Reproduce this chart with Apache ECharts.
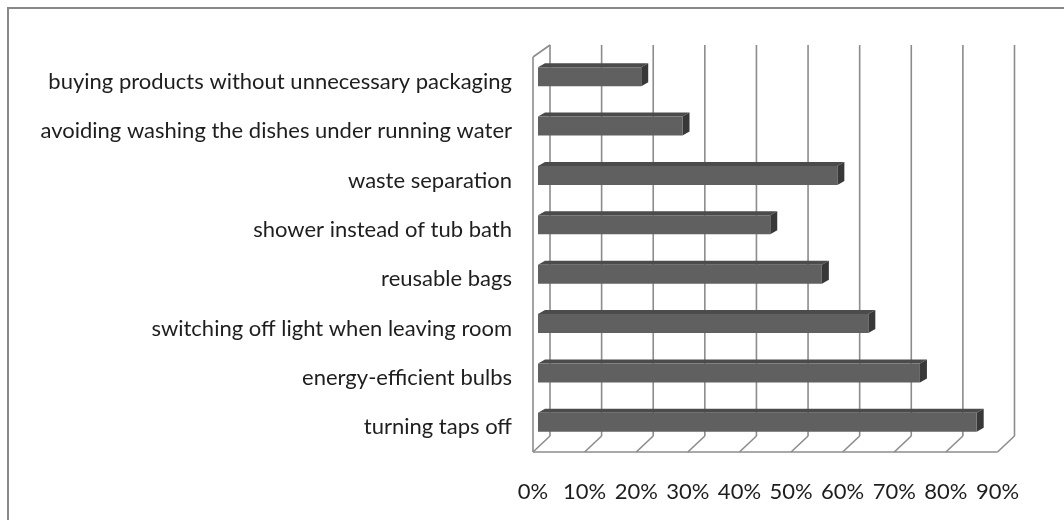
<!DOCTYPE html>
<html>
<head>
<meta charset="utf-8">
<script src="https://cdn.jsdelivr.net/npm/echarts@6/dist/echarts.min.js"></script>
<style>
  html, body { margin: 0; padding: 0; background: #ffffff; }
  #chart { width: 1064px; height: 520px; }
</style>
</head>
<body>
<div id="chart"></div>
<script>
// Share of respondents for each habit, listed top to bottom
const categories = [
  'buying products without unnecessary packaging',
  'avoiding washing the dishes under running water',
  'waste separation',
  'shower instead of tub bath',
  'reusable bags',
  'switching off light when leaving room',
  'energy-efficient bulbs',
  'turning taps off'
];
const values = [20, 28, 58, 45, 55, 64, 74, 85];
const xTicks = [0, 10, 20, 30, 40, 50, 60, 70, 80, 90];

// Pseudo-3D geometry (pixels)
const WALL_DX = 17;        // back wall shift to the right
const WALL_TOP_DY = -12;   // back wall top shift upward
const WALL_BOT_DY = -16;   // back wall bottom shift upward
const BAR_OFF = [5, -5];   // bar front face relative to front plane
const BAR_DEPTH = [7, -4]; // visible depth of each bar
const BAR_H = 19;

const GRID_COLOR = '#8c8c8c';
const lineStyle = { stroke: GRID_COLOR, lineWidth: 1.6, fill: null };

function line(x1, y1, x2, y2) {
  return { type: 'line', shape: { x1, y1, x2, y2 }, style: lineStyle, silent: true };
}

function renderWalls(params, api) {
  const cs = params.coordSys;
  const t = api.value(0);
  const p = api.coord([t, 0]);
  const top = cs.y, bot = cs.y + cs.height;
  const bx = p[0] + WALL_DX;
  const children = [
    line(bx, top + WALL_TOP_DY, bx, bot + WALL_BOT_DY),
    line(bx, bot + WALL_BOT_DY, p[0], bot)
  ];
  if (params.dataIndex === 0) {
    // left side wall and front floor edge
    children.push(line(cs.x, top, cs.x, bot));
    children.push(line(cs.x, top, cs.x + WALL_DX, top + WALL_TOP_DY));
    children.push(line(cs.x, bot, cs.x + cs.width, bot));
  }
  return { type: 'group', children };
}

function renderBar(params, api) {
  const v = api.value(0);
  const c = api.value(1);
  const p0 = api.coord([0, c]);
  const p1 = api.coord([v, c]);
  const x = p0[0] + BAR_OFF[0];
  const y = p0[1] + BAR_OFF[1] - BAR_H / 2;
  const w = p1[0] - p0[0];
  const h = BAR_H;
  const dx = BAR_DEPTH[0], dy = BAR_DEPTH[1];
  return {
    type: 'group',
    children: [
      { type: 'polygon', shape: { points: [[x, y], [x + dx, y + dy], [x + w + dx, y + dy], [x + w, y]] },
        style: { fill: '#4b4b4b' } },
      { type: 'polygon', shape: { points: [[x + w, y], [x + w + dx, y + dy], [x + w + dx, y + h + dy], [x + w, y + h]] },
        style: { fill: '#383838' } },
      { type: 'rect', shape: { x, y, width: w, height: h }, style: { fill: '#606060' } }
    ]
  };
}

const chart = echarts.init(document.getElementById('chart'), null, { renderer: 'canvas' });

const FONT = 'Lato, "Open Sans", sans-serif';

chart.setOption({
  animation: false,
  backgroundColor: '#ffffff',
  graphic: [{
    type: 'rect',
    shape: { x: 8, y: 8, width: 1080, height: 540 },
    style: { fill: null, stroke: '#888888', lineWidth: 2 },
    silent: true,
    z: -10
  }],
  grid: { left: 533, right: 66.5, top: 57, bottom: 68, containLabel: false },
  xAxis: {
    type: 'value',
    min: 0, max: 90, interval: 10,
    axisLine: { show: false },
    axisTick: { show: false },
    splitLine: { show: false },
    axisLabel: {
      formatter: '{value}%',
      margin: 29,
      fontSize: 22,
      fontFamily: FONT,
      color: '#1e1e1e'
    }
  },
  yAxis: {
    type: 'category',
    inverse: true,
    data: categories,
    axisLine: { show: false },
    axisTick: { show: false },
    splitLine: { show: false },
    axisLabel: {
      margin: 21,
      fontSize: 22,
      fontFamily: FONT,
      color: '#1e1e1e',
      padding: [4, 0, 0, 0]
    }
  },
  series: [
    {
      type: 'custom',
      name: 'walls',
      renderItem: renderWalls,
      data: xTicks.map(t => [t]),
      encode: { x: 0 },
      clip: false,
      silent: true,
      z: 1
    },
    {
      type: 'custom',
      name: 'share',
      renderItem: renderBar,
      data: values.map((v, i) => [v, i]),
      encode: { x: 0, y: 1 },
      clip: false,
      z: 2
    }
  ]
});
</script>
</body>
</html>
